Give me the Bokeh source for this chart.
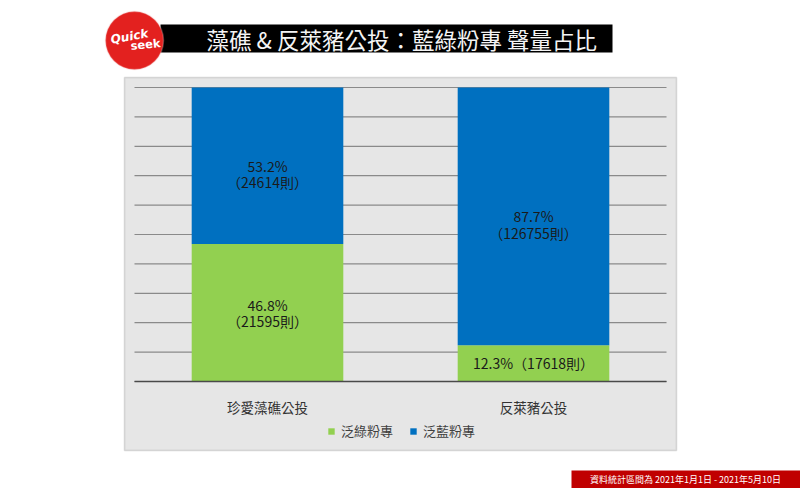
from bokeh.plotting import figure
from bokeh.models import (FactorRange, Range1d, BoxAnnotation, Label, ColumnDataSource,
                          Legend, LegendItem)
from bokeh.core.properties import value
from bokeh.embed import file_html
from bokeh.resources import INLINE

# ---- data ----
categories = ["珍愛藻礁公投", "反萊豬公投"]
series = ["泛綠粉專", "泛藍粉專"]
green_pct = [46.8, 12.3]
blue_pct = [53.2, 87.7]
green_count = [21595, 17618]
blue_count = [24614, 126755]
y_ticks = [0, 10, 20, 30, 40, 50, 60, 70, 80, 90, 100]
colors = ["#92d050", "#0070c0"]
title_text = "藻礁 & 反萊豬公投：藍綠粉專 聲量占比"
footer_text = "資料統計區間為 2021年1月1日 - 2021年5月10日"

CJK = "Noto Sans CJK TC"
W, H = 800, 488
FL, FR, FT, FB = 134, 666, 87, 381  # plot-area edges in canvas px
n = len(categories)
ppx = (FR - FL) / n          # px per category
ppy = (FB - FT) / 100.0      # px per percent

x_range = FactorRange(*categories, range_padding=FL / ppx, range_padding_units="absolute")
y_range = Range1d(-(H - FB) / ppy, 100 + FT / ppy)

p = figure(width=W, height=H, x_range=x_range, y_range=y_range,
           x_axis_location=None, y_axis_location=None,
           output_backend="svg", toolbar_location=None,
           min_border=0, min_border_left=0, min_border_right=0, min_border_top=0, min_border_bottom=0)
p.background_fill_color = "white"
p.border_fill_color = "white"
p.outline_line_color = None
p.grid.visible = False


def box(X0, X1, Y0, Y1, **kw):
    """decoration box in canvas px (top-left origin)"""
    return BoxAnnotation(left=X0, right=X1, top=H - Y0, bottom=H - Y1,
                         left_units="screen", right_units="screen",
                         top_units="screen", bottom_units="screen", **kw)


def label(X, Y, text, **kw):
    return Label(x=X, y=H - Y, x_units="screen", y_units="screen", text=text, **kw)


# gray panel
p.add_layout(box(124, 676, 77, 450, fill_color="#e6e6e6", fill_alpha=1,
                 line_color="#8f8f8f", line_width=1.5, level="image"))

# grid lines (only across the plot area)
p.segment(x0=[0] * len(y_ticks), x1=[n] * len(y_ticks), y0=y_ticks, y1=y_ticks,
          line_color="#8a8a8a", line_width=1.2)

# bars
src = ColumnDataSource(dict(cat=categories, g=green_pct, b=blue_pct))
rs = p.vbar_stack(["g", "b"], x="cat", width=0.57, color=colors, source=src, line_color=None)

# baseline
p.segment(x0=[0], x1=[n], y0=[0], y1=[0], line_color="#4a4a4a", line_width=1.5)

# labels inside bars
gy = [v / 2 for v in green_pct]
by = [g + b / 2 for g, b in zip(green_pct, blue_pct)]
g_txt = [f"{pc}%\n（{c}則）" if pc > 20 else f"{pc}%（{c}則）" for pc, c in zip(green_pct, green_count)]
b_txt = [f"{pc}%\n（{c}則）" for pc, c in zip(blue_pct, blue_count)]
p.text(x="x", y="y", text="t", source=ColumnDataSource(dict(x=categories, y=gy, t=g_txt)),
       text_align="center", text_baseline="middle", text_font=value(CJK), text_font_size="14px",
       text_color="#1a1a1a", text_line_height=0.82)
p.text(x="x", y="y", text="t", source=ColumnDataSource(dict(x=categories, y=by, t=b_txt)),
       text_align="center", text_baseline="middle", text_font=value(CJK), text_font_size="14px",
       text_color="#1a1a1a", text_line_height=0.82, y_offset=8)

# category labels (x axis)
p.text(x=categories, y=[0] * n, text=categories, y_offset=25,
       text_align="center", text_baseline="middle", text_font=value(CJK),
       text_font_size="13.5px", text_color="#333333")

# legend
legend = Legend(items=[LegendItem(label=s, renderers=[r]) for s, r in zip(series, rs)],
                orientation="horizontal", location=(327, H - 440),
                glyph_width=8, glyph_height=8, label_standoff=6, spacing=16,
                padding=0, margin=0, border_line_color=None, background_fill_alpha=0,
                label_text_font=CJK, label_text_font_size="13px", label_text_color="#404040",
                label_height=14)
p.add_layout(legend)

# title bar
p.add_layout(box(160, 612, 24, 52, fill_color="black", fill_alpha=1, line_color=None))
p.add_layout(label(206, 38, title_text, text_font=CJK, text_font_size="22.5px",
                   text_color="#f4f4f4", text_baseline="middle"))

# logo
p.add_layout(box(105, 163, 11, 69, border_radius=29, fill_color="#e3211f", fill_alpha=1,
                 line_color="#f2b8b8", line_width=1.5))
p.add_layout(label(129, 36, "Quick", angle=0.18, text_font="DejaVu Sans",
                   text_font_style="bold italic", text_font_size="12px",
                   text_color="white", text_align="center", text_baseline="middle"))
p.add_layout(label(145, 44, "seek", angle=0.1, text_font="DejaVu Sans",
                   text_font_style="bold", text_font_size="11.5px",
                   text_color="white", text_align="center", text_baseline="middle"))

# footer
p.add_layout(box(571, 800, 470, 488, fill_color="#c00000", fill_alpha=1, line_color=None))
p.add_layout(label(685, 479, footer_text, text_font=CJK, text_font_size="9px",
                   text_color="white", text_align="center", text_baseline="middle"))

open("out.html", "w").write(file_html(p, INLINE))
